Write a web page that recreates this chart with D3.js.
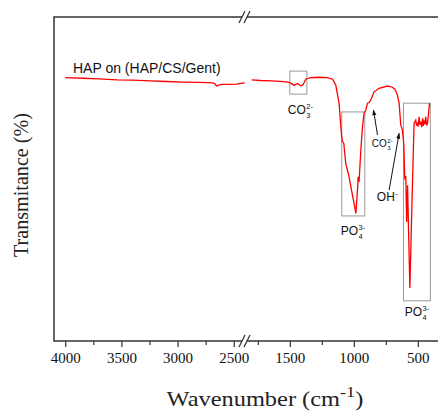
<!DOCTYPE html>
<html>
<head>
<meta charset="utf-8">
<script src="https://cdn.jsdelivr.net/npm/d3@7"></script>
<style>
body { margin: 0; background: #fff; }
.axis text { font-family: "Liberation Serif", "Times New Roman", serif; font-size: 15px; fill: #111; }
.axis line { stroke: #333; stroke-width: 1.2px; }
</style>
</head>
<body>
<div id="chart"></div>
<script>
// FTIR spectrum, left part (4000-2400) and right part (1800-400) of the broken axis
var leftWave = [4000, 3840, 3700, 3538, 3400, 3245, 3100, 2953, 2800, 2686, 2665, 2654, 2640, 2620, 2598, 2535, 2476, 2438, 2402];
var leftT    = [81.3, 81.1, 80.9, 80.6, 80.5, 80.3, 80.1, 79.9, 79.8, 79.7, 79.3, 78.7, 78.9, 79.1, 79.2, 79.2, 79.3, 79.5, 79.7];

var rightWave = [1797, 1727, 1648, 1570, 1516, 1492, 1466, 1440, 1414, 1398, 1375, 1336, 1273, 1205, 1166, 1141, 1115, 1096, 1090, 1078,
                 1063, 1037, 1018, 998, 984, 971, 966, 959, 945, 932, 920, 906, 893, 880, 867, 841, 802, 737, 703, 680,
                 659, 646, 633, 620, 609, 602, 594, 587, 580, 562, 541, 529, 516, 510, 504, 497, 490, 483, 477, 470, 463, 457, 451, 444, 438, 431, 424, 416, 409];
var rightT    = [80.6, 80.4, 80.3, 80.1, 79.9, 79.6, 78.9, 79.5, 78.8, 79.0, 80.8, 81.3, 81.4, 81.3, 80.8, 79.0, 73.4, 63.6, 61.7, 61.0,
                 54.8, 50.7, 46.6, 42.5, 39.4, 46.6, 50.7, 49.1, 59.0, 66.1, 70.3, 71.3, 73.4, 73.6, 74.4, 76.9, 78.0, 78.7, 78.4, 77.8,
                 75.9, 73.4, 66.7, 65.1, 60.5, 50.3, 50.9, 36.7, 48.1, 16.4, 49.7, 67.2, 68.2, 66.5, 67.4, 66.2, 69.2, 66.8, 67.6, 66.0, 68.7, 66.4, 67.7, 66.9, 69.2, 66.5, 67.2, 70.3, 73.4];

var leftMajor = [4000, 3500, 3000, 2500];
var leftMinor = [3750, 3250, 2750];
var rightMajor = [1500, 1000, 500];
var rightMinor = [1750, 1250, 750];

// band boxes: [wave from, wave to, T top, T bottom]
var boxes = [[1500, 1367, 83.3, 76.2], [1094, 914, 70.7, 38.6], [612, 402, 73.4, 12.4]];

// band labels: base, sub, sup, wave, T, font size
var bandLabels = [
    ["CO", "3", "2-", 1516, 70.1, 12],
    ["CO", "3", "2-", 859, 59.9, 10],
    ["PO", "4", "3-", 1102, 32.7, 12],
    ["PO", "4", "3-", 602, 7.7, 12],
    ["OH", "", "-", 820, 43.2, 12]
];
// arrows: tail wave, tail T, tip wave, tip T
var arrows = [[815, 63.6, 846, 71.3], [724, 46.6, 646, 64.1]];

var margin = { left: 54, right: 0, top: 17, bottom: 74 };
var width = 438 - margin.left - margin.right;
var height = 415 - margin.top - margin.bottom;
var breakX = 191;

var svg = d3.select("#chart").append("svg")
    .attr("width", 438)
    .attr("height", 415);
var g = svg.append("g")
    .attr("transform", "translate(" + margin.left + "," + margin.top + ")");

var xL = d3.scaleLinear().domain([4100, 2400]).range([0, breakX]);
var xR = d3.scaleLinear().domain([1850, 350]).range([breakX, breakX + 192]);
var y = d3.scaleLinear().domain([0, 100]).range([height, 0]);

function xAny(w) { return w >= 2400 ? xL(w) : xR(w); }

svg.append("defs").append("marker")
    .attr("id", "head")
    .attr("viewBox", "0 0 10 10")
    .attr("refX", 9).attr("refY", 5)
    .attr("markerWidth", 6).attr("markerHeight", 6)
    .attr("orient", "auto")
    .append("path")
    .attr("d", "M0,1.5L10,5L0,8.5Z")
    .attr("fill", "#111");

// axes
function addAxis(scale, major, minor) {
    g.append("g").attr("class", "axis")
        .attr("transform", "translate(0," + height + ")")
        .call(d3.axisBottom(scale).tickValues(major).tickSize(6).tickPadding(5).tickSizeOuter(0).tickFormat(d3.format("d")))
        .call(function(a) { a.select(".domain").remove(); });
    g.append("g").attr("class", "axis")
        .attr("transform", "translate(0," + height + ")")
        .call(d3.axisBottom(scale).tickValues(minor).tickSize(4).tickFormat("").tickSizeOuter(0))
        .call(function(a) { a.select(".domain").remove(); });
}
addAxis(xL, leftMajor, leftMinor);
addAxis(xR, rightMajor, rightMinor);

var frame = g.append("g").attr("stroke", "#333").attr("stroke-width", 1.5).attr("fill", "none");
frame.append("path").attr("d", "M" + width + ",0H0V" + height + "H" + width);

// break marks
[0, height].forEach(function(yy) {
    frame.append("line").attr("x1", breakX - 3).attr("x2", breakX + 2)
        .attr("y1", yy).attr("y2", yy).attr("stroke", "#fff").attr("stroke-width", 3);
    [-3, 2].forEach(function(dx) {
        frame.append("line")
            .attr("x1", breakX + dx - 3).attr("y1", yy + 6)
            .attr("x2", breakX + dx + 3).attr("y2", yy - 6)
            .attr("stroke-width", 1.2);
    });
});

// boxes
g.selectAll(".box").data(boxes).enter().append("rect")
    .attr("class", "box")
    .attr("x", function(d) { return xR(d[0]); })
    .attr("y", function(d) { return y(d[2]); })
    .attr("width", function(d) { return xR(d[1]) - xR(d[0]); })
    .attr("height", function(d) { return y(d[3]) - y(d[2]); })
    .attr("fill", "none")
    .attr("stroke", "#999")
    .attr("stroke-width", 1);

// spectrum
var lineL = d3.line().x(function(d, i) { return xL(leftWave[i]); }).y(function(d) { return y(d); });
var lineR = d3.line().x(function(d, i) { return xR(rightWave[i]); }).y(function(d) { return y(d); });
g.append("path").attr("d", lineL(leftT)).attr("fill", "none").attr("stroke", "red").attr("stroke-width", 1.3);
g.append("path").attr("d", lineR(rightT)).attr("fill", "none").attr("stroke", "red").attr("stroke-width", 1.3);

// arrows
g.selectAll(".arrow").data(arrows).enter().append("line")
    .attr("x1", function(d) { return xR(d[0]); })
    .attr("y1", function(d) { return y(d[1]); })
    .attr("x2", function(d) { return xR(d[2]); })
    .attr("y2", function(d) { return y(d[3]); })
    .attr("stroke", "#111").attr("stroke-width", 1)
    .attr("marker-end", "url(#head)");

// labels
g.append("text")
    .attr("x", xL(3931)).attr("y", y(82.7))
    .attr("font-family", "Liberation Sans, Arial, sans-serif")
    .attr("font-size", 14).attr("fill", "#111")
    .text("HAP on (HAP/CS/Gent)");

bandLabels.forEach(function(d) {
    var x0 = xAny(d[3]), y0 = y(d[4]), s = d[5];
    var t = g.append("text").attr("x", x0).attr("y", y0)
        .attr("font-family", "Liberation Sans, Arial, sans-serif")
        .attr("font-size", s).attr("fill", "#111").text(d[0]);
    var w = t.node().getComputedTextLength();
    if (d[1]) {
        g.append("text").attr("x", x0 + w + 0.5).attr("y", y0 + s * 0.35)
            .attr("font-family", "Liberation Sans, Arial, sans-serif")
            .attr("font-size", s * 0.62).attr("fill", "#111").text(d[1]);
    }
    g.append("text").attr("x", x0 + w + 0.5).attr("y", y0 - s * 0.42)
        .attr("font-family", "Liberation Sans, Arial, sans-serif")
        .attr("font-size", s * 0.62).attr("fill", "#111").text(d[2]);
});

// axis titles
var xt = svg.append("text")
    .attr("transform", "translate(265,406) scale(1.22,1)")
    .attr("text-anchor", "middle")
    .attr("font-family", "Liberation Serif, Times New Roman, serif")
    .attr("font-size", 20).attr("fill", "#222");
xt.append("tspan").text("Wavenumber (cm");
xt.append("tspan").attr("dy", -9).attr("font-size", 15).text("-1");
xt.append("tspan").attr("dy", 9).text(")");

svg.append("text")
    .attr("transform", "translate(28,185) rotate(-90)")
    .attr("text-anchor", "middle")
    .attr("font-family", "Liberation Serif, Times New Roman, serif")
    .attr("font-size", 21).attr("fill", "#222")
    .attr("textLength", 144).attr("lengthAdjust", "spacingAndGlyphs")
    .text("Transmitance (%)");
</script>
</body>
</html>
